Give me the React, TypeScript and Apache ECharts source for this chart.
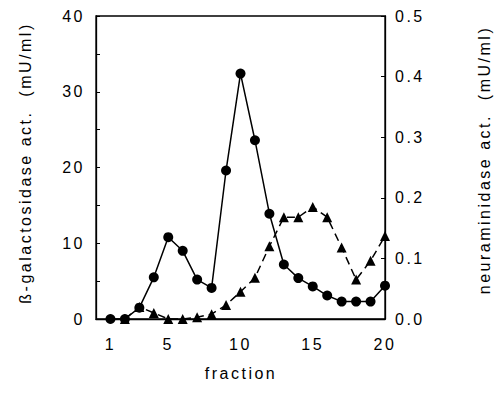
import React, { useEffect, useRef } from "react";
import * as echarts from "echarts";

const fractions = [1, 2, 3, 4, 5, 6, 7, 8, 9, 10, 11, 12, 13, 14, 15, 16, 17, 18, 19, 20];
const galactosidase = [0, 0, 1.5, 5.5, 10.8, 9.0, 5.2, 4.1, 19.6, 32.4, 23.6, 13.9, 7.2, 5.4, 4.3, 3.1, 2.3, 2.3, 2.3, 4.4];
const neuraminidaseFractions = [2, 3, 4, 5, 6, 7, 8, 9, 10, 11, 12, 13, 14, 15, 16, 17, 18, 19, 20];
const neuraminidase = [0, 0.02, 0.01, 0, 0, 0.003, 0.008, 0.023, 0.045, 0.068, 0.12, 0.168, 0.168, 0.185, 0.168, 0.118, 0.065, 0.096, 0.137];
const xTickLabels = [1, 5, 10, 15, 20];

const FONT = "'Liberation Sans', Arial, Helvetica, sans-serif";

export default function App() {
  const ref = useRef<HTMLDivElement>(null);
  useEffect(() => {
    if (!ref.current) return;
    const chart = echarts.init(ref.current, null, { renderer: "svg" });
    const axisText = { color: "#000", fontSize: 16, fontFamily: FONT };
    chart.setOption({
      animation: false,
      backgroundColor: "#fff",
      grid: {
        left: 96,
        top: 16,
        width: 289,
        height: 303,
        show: true,
        borderColor: "#000",
        borderWidth: 1.3,
        backgroundColor: "transparent",
      },
      xAxis: {
        type: "value",
        min: 0,
        max: 20,
        axisLine: { show: true, lineStyle: { color: "#000", width: 1.3 } },
        axisTick: { show: false },
        splitLine: { show: false },
        axisLabel: { ...axisText, margin: 17, customValues: xTickLabels },
      },
      yAxis: [
        {
          type: "value",
          min: 0,
          max: 40,
          interval: 10,
          position: "left",
          axisLine: { show: true, lineStyle: { color: "#000", width: 1.3 } },
          axisTick: { show: true, inside: true, length: 4, lineStyle: { color: "#000" } },
          minorTick: { show: true, splitNumber: 2, length: 4, lineStyle: { color: "#000" } },
          splitLine: { show: false },
          axisLabel: { ...axisText, margin: 11 },
        },
        {
          type: "value",
          min: 0,
          max: 0.5,
          interval: 0.1,
          position: "right",
          axisLine: { show: true, lineStyle: { color: "#000", width: 1.3 } },
          axisTick: { show: true, inside: true, length: 4, lineStyle: { color: "#000" } },
          splitLine: { show: false },
          axisLabel: { ...axisText, margin: 10, formatter: (v: number) => v.toFixed(1) },
        },
      ],
      graphic: [
        {
          type: "text",
          x: 25,
          y: 163,
          rotation: Math.PI / 2,
          style: {
            text: "ß-galactosidase act.  (mU/ml)",
            fontSize: 16,
            fontFamily: FONT,
            fill: "#000",
            align: "center",
            verticalAlign: "middle",
          },
        },
        {
          type: "text",
          x: 484,
          y: 160,
          rotation: Math.PI / 2,
          style: {
            text: "neuraminidase act.  (mU/ml)",
            fontSize: 16,
            fontFamily: FONT,
            fill: "#000",
            align: "center",
            verticalAlign: "middle",
          },
        },
        {
          type: "text",
          x: 241,
          y: 373,
          style: {
            text: "fraction",
            fontSize: 16,
            fontFamily: FONT,
            fill: "#000",
            align: "center",
            verticalAlign: "middle",
          },
        },
      ],
      series: [
        {
          type: "line",
          yAxisIndex: 0,
          data: fractions.map((f, i) => [f, galactosidase[i]]),
          symbol: "circle",
          symbolSize: 10,
          itemStyle: { color: "#000" },
          lineStyle: { color: "#000", width: 1.5 },
          z: 3,
        },
        {
          type: "line",
          yAxisIndex: 1,
          data: neuraminidaseFractions.map((f, i) => [f, neuraminidase[i]]),
          symbol: "triangle",
          symbolSize: 10,
          itemStyle: { color: "#000" },
          lineStyle: { color: "#000", width: 1.5, type: [8, 5] },
          z: 2,
        },
      ],
    });
    return () => chart.dispose();
  }, []);
  return (
    <>
      <style>{".chart-root text { letter-spacing: 2.5px; }"}</style>
      <div
        ref={ref}
        className="chart-root"
        style={{ position: "fixed", left: 0, top: 0, width: 495, height: 408, background: "#fff" }}
      />
    </>
  );
}
